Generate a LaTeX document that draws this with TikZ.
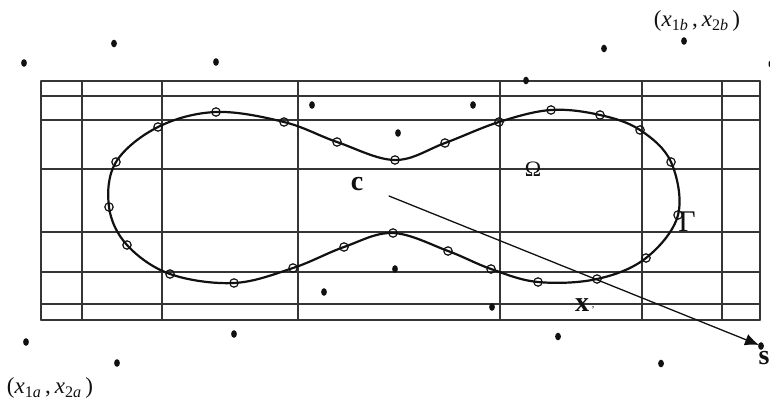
\documentclass[tikz,border=0pt]{standalone}
\usepackage{fontspec}
\setmainfont{Liberation Serif}
\usetikzlibrary{arrows.meta}
\definecolor{inkblack}{HTML}{111111}
\newcommand{\pairlabel}[2]{(\textit{x}\textsubscript{1\textit{#1}}\,,\,\textit{x}\textsubscript{2\textit{#2}}\,)}

\begin{document}
\begin{tikzpicture}[
  x=1pt,y=-1pt,line cap=round,line join=round,
  gridline/.style={inkblack!85,line width=1.4pt},
  boundary/.style={inkblack,line width=2.2pt},
  knot/.style={inkblack,line width=1.2pt},
  sample/.style={inkblack,fill=inkblack},
  direction/.style={inkblack,line width=1.3pt,-{Latex[length=14pt,width=12pt]}},
  bigbold/.style={font=\fontsize{28}{30}\selectfont\bfseries,text=inkblack},
  pairtext/.style={font=\fontsize{23}{26}\selectfont,text=inkblack}
]
  \useasboundingbox (0,0) rectangle (770,406);
  \fill[white] (0,0) rectangle (770,406);

  % Nonuniform mesh lines.
  \foreach \x in {41,82,162,298,500,642,722,760} {
    \draw[gridline] (\x,81) -- (\x,320);
  }
  \foreach \y in {81,96,120,169,232,272,304,320} {
    \draw[gridline] (41,\y) -- (760,\y);
  }

  % Closed boundary through the knots.
  \draw[boundary] plot[smooth cycle,tension=0.6] coordinates {
    (116,162) (158,127) (216,112) (284,122) (337,142) (395,160) (445,143)
    (499,122) (551,110) (600,115) (640,130) (671,162) (678,215)
    (646,258) (597,279) (538,282) (491,269) (448,251) (393,233) (344,247)
    (293,268) (234,283) (170,274) (127,245) (109,207)
  };
  \foreach \x/\y in {116/162,158/127,216/112,284/122,337/142,395/160,445/143,
    499/122,551/110,600/115,640/130,671/162,678/215,646/258,597/279,538/282,
    491/269,448/251,393/233,344/247,293/268,234/283,170/274,127/245,109/207} {
    \draw[knot] (\x,\y) circle[radius=4.2];
  }

  % Scattered points around the mesh.
  \foreach \x/\y in {24/63,114/43.5,216/62,312/105,398/133,473/105,526/80.5,
    604/48.5,684/41,26/342,117/363,234/334,324/292,395/269,492/307,558/336.5,
    661/363.5,761/346} {
    \fill[sample] (\x,\y) ellipse[x radius=2.9,y radius=3.8];
  }
  \fill[sample] (769.5,64) ellipse[x radius=1,y radius=3];

  % Direction from c towards s.
  \coordinate (cstart) at (389,196);
  \coordinate (send) at (759,345);
  \draw[direction] (cstart) -- (send);

  % Labels.
  \node[bigbold] (clabel) at (357,184) {c};
  \node[bigbold] (slabel) at (764,358) {s};
  \node[bigbold] (xlabel) at (582,305) {x};
  \node[font=\fontsize{10}{11}\selectfont\itshape,text=inkblack] (xprime) at (593,308) {,};
  \node[font=\fontsize{22}{24}\selectfont,text=inkblack] (omegalabel) at (533,169) {Ω};
  \node[font=\fontsize{30}{32}\selectfont,text=inkblack] (gammalabel) at (687,222) {Γ};
  \node[pairtext] (pairb) at (697,21) {\pairlabel{b}{b}};
  \node[pairtext] (paira) at (50,388) {\pairlabel{a}{a}};
\end{tikzpicture}
\end{document}
